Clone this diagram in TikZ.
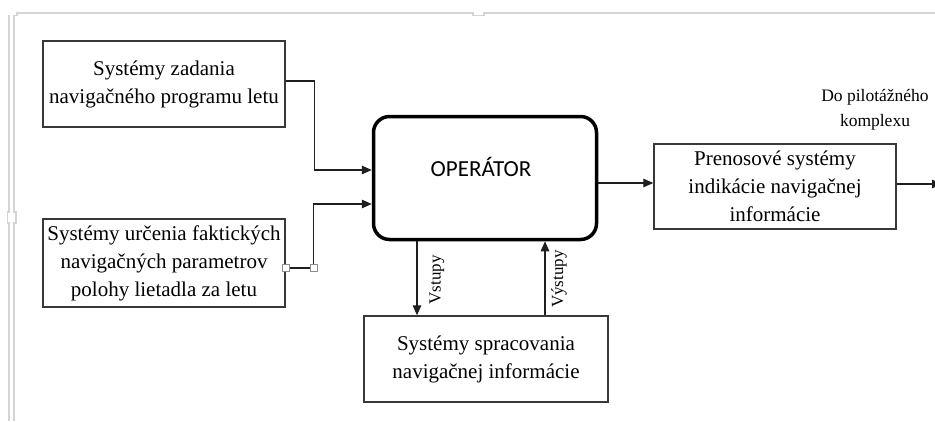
\documentclass[tikz,border=0pt]{standalone}
\usepackage{fontspec}
\setmainfont{Liberation Serif}
\newfontfamily\opfont{Carlito}
\usetikzlibrary{arrows.meta}
\definecolor{boxc}{HTML}{383838}
\definecolor{framec}{HTML}{D4D4D4}
\begin{document}
\begin{tikzpicture}[x=1pt,y=-1pt,
  sbox/.style={draw=boxc, line width=1.4pt, fill=white, inner sep=0pt, align=center,
               font=\fontsize{21}{28}\selectfont},
  opbox/.style={draw=black, line width=3.5pt, rounded corners=16pt, fill=white, inner sep=0pt},
  arr/.style={draw=black!88, line width=1.3pt, -{Triangle[length=10pt,width=8.5pt]}},
  plain/.style={draw=black!88, line width=1.3pt},
  handle/.style={draw=black!45, fill=white, line width=0.8pt, minimum size=7pt, inner sep=0pt},
  lab/.style={font=\fontsize{17}{20}\selectfont, rotate=90, inner sep=0pt},
  note/.style={font=\fontsize{17.5}{25}\selectfont, align=center, inner sep=0pt},
  frame/.style={draw=framec, line width=1.3pt}]
\useasboundingbox (0,0) rectangle (935,421);
\clip (0,0) rectangle (935,421);

% page-edge marks
\draw[frame] (9,15) -- (9,212) -- (7.5,212) -- (7.5,223) -- (9,223) -- (9,421);
\draw[frame] (14,421) -- (14,223) -- (16,223) -- (16,212) -- (14,212) -- (14,15.5) -- (17,15.5) -- (17,13)
  -- (473,13) -- (473,15.5) -- (484,15.5) -- (484,13) -- (935,13);

% boxes
\node[sbox, minimum width=242pt, minimum height=86pt] (b1) at (164,84)
  {Systémy zadania\\navigačného programu letu};
\node[sbox, minimum width=242pt, minimum height=88pt] (b2) at (164,263)
  {Systémy určenia faktických\\navigačných parametrov\\polohy lietadla za letu};
\node[opbox, minimum width=223pt, minimum height=123pt] (op) at (485,178) {};
\node[font=\opfont\fontsize{23}{27}\selectfont, inner sep=0pt] (optext)
  at ([xshift=-4pt,yshift=11pt]op.center) {OPERÁTOR};
\node[sbox, minimum width=244pt, minimum height=86pt] (b3) at (486,359)
  {Systémy spracovania\\navigačnej informácie};
\node[sbox, minimum width=242pt, minimum height=85pt] (b4) at (775,186.5)
  {Prenosové systémy\\indikácie navigačnej\\informácie};
\node[note] (pk) at (875,110) {Do pilotážného\\komplexu};

% connectors
\draw[arr] ([yshift=3pt]b1.east) -- ++(29pt,0) |- ([yshift=8pt]op.west);

\coordinate (h1c) at ([yshift=-5pt]b2.east);
\coordinate (h2c) at ([xshift=28pt]h1c);
\draw[plain] (h1c) -- (h2c);
\draw[arr] (h2c) |- ([yshift=-26pt]op.west);
\node[handle] (h1) at (h1c) {};
\node[handle] (h2) at (h2c) {};

\draw[arr] ([xshift=-68pt]op.south) -- ([xshift=-68pt]op.south |- b3.north);
\node[lab] (vst) at (437,280) {Vstupy};
\draw[arr] ([xshift=59pt]b3.north) -- ([xshift=59pt]b3.north |- op.south);
\node[lab] (vyst) at (559,279) {Výstupy};

\draw[arr] ([yshift=-5pt]op.east) -- ([yshift=-5pt]op.east -| b4.west);
\coordinate (out) at (942,184);
\draw[arr] ([yshift=2.5pt]b4.east) -- (out);
\end{tikzpicture}
\end{document}
